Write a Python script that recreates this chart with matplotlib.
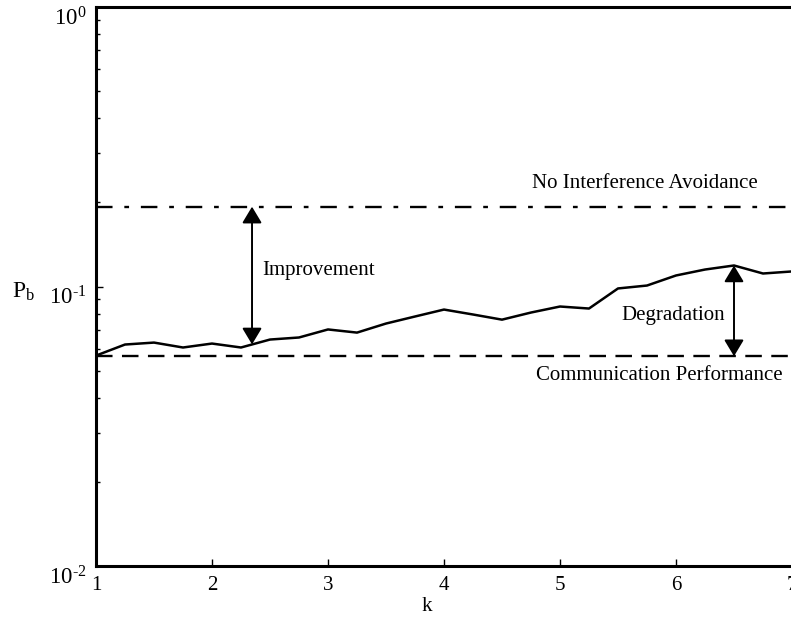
import numpy as np
import matplotlib
matplotlib.use('Agg')
import matplotlib.pyplot as plt
from matplotlib.ticker import LogLocator, FixedLocator, FuncFormatter

plt.rcParams['font.family'] = ['Liberation Serif', 'DejaVu Serif']
plt.rcParams['mathtext.fontset'] = 'custom'
plt.rcParams['mathtext.rm'] = 'Liberation Serif'
plt.rcParams['mathtext.it'] = 'Liberation Serif:italic'
plt.rcParams['axes.unicode_minus'] = False

# data
k = [1.0, 1.25, 1.5, 1.75, 2.0, 2.25, 2.5, 2.75, 3.0, 3.25, 3.5, 3.75, 4.0,
     4.25, 4.5, 4.75, 5.0, 5.25, 5.5, 5.75, 6.0, 6.25, 6.5, 6.75, 7.0]
pb = [0.0566, 0.0620, 0.0630, 0.0605, 0.0625, 0.0605, 0.0646, 0.0657, 0.0702,
      0.0684, 0.0737, 0.0781, 0.0827, 0.0794, 0.0761, 0.0807, 0.0848, 0.0834,
      0.0984, 0.1008, 0.1095, 0.1150, 0.1189, 0.1113, 0.1132]
no_avoid = 0.193      # No Interference Avoidance level
comm_perf = 0.0563    # Communication Performance level
k_improve = 2.345     # where the arrows sit
k_degrade = 6.5
x_ticks = [1, 2, 3, 4, 5, 6, 7]

def pow_label(v, pos):
    e = int(round(np.log10(v)))
    return '10$^{\\text{%d}}$' % e

fig = plt.figure(figsize=(7.91, 6.21), dpi=100)
ax = fig.add_axes([96/791, 55/621, 696/791, 559/621])

ax.plot(k, pb, color='k', lw=1.8)
ax.axhline(no_avoid, color='k', lw=1.7, dashes=(7, 5, 2, 5))
ax.axhline(comm_perf, color='k', lw=1.7, dashes=(7, 4))

ax.set_yscale('log')
ax.set_xlim(1, 7)
ax.set_ylim(1e-2, 1e0)
ax.xaxis.set_major_locator(FixedLocator(x_ticks))
ax.yaxis.set_major_locator(LogLocator(base=10))
ax.yaxis.set_major_formatter(FuncFormatter(pow_label))
ax.yaxis.set_minor_locator(LogLocator(base=10, subs=np.arange(2, 10)))
ax.tick_params(axis='both', which='major', direction='in', length=5, width=1,
               labelsize=15, top=False, right=False)
ax.tick_params(axis='y', which='major', labelsize=16.5)
ax.tick_params(axis='y', which='minor', direction='in', length=3, width=1,
               right=False)
ax.tick_params(axis='x', which='minor', bottom=False, top=False)
ax.tick_params(axis='x', pad=7)
ax.tick_params(axis='y', pad=7)
for s in ax.spines.values():
    s.set_linewidth(2.2)
ax.spines['right'].set_visible(False)

ax.set_xlabel('k', fontsize=15)
ax.xaxis.set_label_coords((427-96)/696, -0.055)
ax.set_ylabel('P$_\\mathrm{b}$', fontsize=17, rotation=0, ha='center', va='center')
ax.yaxis.set_label_coords((23-96)/696, 0.49)

arrow = dict(arrowstyle='<|-|>,head_length=0.5,head_width=0.3', color='k',
             lw=1.4, mutation_scale=20, shrinkA=0, shrinkB=0)
ax.annotate('', xy=(k_improve, np.interp(k_improve, k, pb)),
            xytext=(k_improve, no_avoid), arrowprops=arrow)
ax.annotate('', xy=(k_degrade, comm_perf),
            xytext=(k_degrade, np.interp(k_degrade, k, pb)), arrowprops=arrow)

ax.text(2.43, 0.114, 'Improvement', fontsize=15, ha='left', va='center')
ax.text(6.42, 0.0787, 'Degradation', fontsize=15, ha='right', va='center')
ax.text(6.707, 0.234, 'No Interference Avoidance', fontsize=15, ha='right', va='center')
ax.text(6.922, 0.048, 'Communication Performance', fontsize=15, ha='right', va='center')

fig.canvas.draw()
for lab in ax.get_yticklabels():
    lab.set_verticalalignment('top')

fig.savefig('out.png', dpi=100)
